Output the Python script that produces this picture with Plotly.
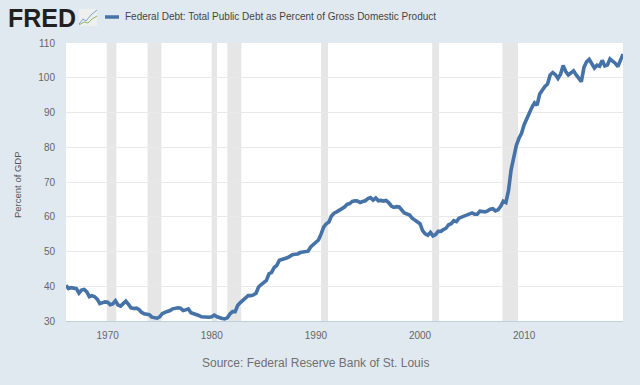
import pandas as pd
import plotly.graph_objects as go

W, H = 640, 385
L, R, T, B = 66, 623, 43, 321

series_name = "Federal Debt: Total Public Debt as Percent of Gross Domestic Product"
source_text = "Source: Federal Reserve Bank of St. Louis"
y_title = "Percent of GDP"
start_quarter = "1966-01-01"

debt_pct = [
    40.3, 39.3, 39.6, 39.4, 39.3, 38.0, 38.9, 39.1, 38.4, 37.0, 37.3, 37.0,
    36.3, 35.0, 35.2, 35.5, 35.4, 34.7, 34.9, 35.8, 34.6, 34.3, 35.0, 35.7,
    34.8, 33.8, 33.6, 33.7, 33.3, 32.5, 32.1, 31.9, 31.8, 31.1, 30.9, 30.8,
    31.2, 32.1, 32.5, 32.7, 33.0, 33.5, 33.7, 33.8, 33.7, 33.0, 33.2, 33.5,
    32.4, 32.2, 31.9, 31.6, 31.2, 31.1, 31.1, 31.1, 31.2, 31.7, 31.2, 30.9,
    30.7, 30.6, 30.9, 32.0, 32.7, 32.7, 34.5, 35.3, 36.0, 36.8, 37.3, 37.3,
    37.5, 38.0, 39.8, 40.5, 41.0, 41.7, 43.6, 44.0, 45.4, 46.0, 47.5, 47.7,
    48.1, 48.2, 48.6, 49.1, 49.2, 49.3, 49.7, 49.9, 50.0, 50.1, 51.3, 52.0,
    52.6, 53.3, 55.0, 57.0, 58.0, 58.5, 60.2, 61.0, 61.4, 61.8, 62.3, 62.8,
    63.6, 63.8, 64.4, 64.6, 64.5, 64.1, 64.4, 64.6, 65.2, 65.5, 64.8, 65.4,
    64.6, 64.7, 64.5, 64.7, 64.0, 63.1, 62.7, 62.9, 62.8, 61.9, 61.1, 60.8,
    60.5, 59.6, 59.1, 58.4, 58.0, 56.0, 55.1, 54.7, 55.5, 54.5, 54.9, 55.8,
    55.8, 56.3, 56.7, 57.7, 58.0, 58.9, 58.6, 59.6, 59.9, 60.0, 60.5, 60.6,
    61.1, 60.7, 60.7, 61.6, 61.6, 61.4, 61.7, 62.2, 62.3, 61.7, 62.0, 63.0,
    64.5, 64.1, 67.5, 73.5, 77.0, 80.5, 82.5, 84.0, 86.5, 88.3, 89.5, 91.5,
    92.8, 92.1, 95.3, 96.6, 97.5, 98.2, 100.8, 101.5, 100.9, 99.8, 101.0, 103.5,
    101.8, 100.8, 101.5, 102.0, 100.8, 99.8, 98.9, 103.0, 104.6, 105.3, 104.0, 102.8,
    103.6, 103.3, 105.0, 103.4, 103.7, 105.4, 104.8, 104.2, 103.2, 105.2, 106.8,
]
recession_starts = ["1969-12-01", "1973-11-01", "1980-01-01", "1981-07-01", "1990-07-01", "2001-03-01", "2007-12-01"]
recession_ends = ["1970-11-01", "1975-03-01", "1980-07-01", "1982-11-01", "1991-03-01", "2001-11-01", "2009-06-01"]
y_ticks = [30, 40, 50, 60, 70, 80, 90, 100, 110]
x_tick_years = [1970, 1980, 1990, 2000, 2010]

dates = pd.date_range(start_quarter, periods=len(debt_pct), freq="QS")
LINE = "#4572a7"
BG = "#e1e9f0"
FONT = "Liberation Sans, Arial, sans-serif"


def px(x):
    return (x - L) / (R - L)


def py(y):
    return (B - y) / (B - T)


fig = go.Figure(go.Scatter(x=dates, y=debt_pct, mode="lines", name=series_name,
                           line=dict(color=LINE, width=3.6), showlegend=False))

shapes = [dict(type="rect", xref="x", yref="paper", x0=a, x1=b, y0=0, y1=1, layer="below",
               fillcolor="#e6e6e6", line_width=0)
          for a, b in zip(recession_starts, recession_ends)]
# legend swatch
shapes.append(dict(type="line", xref="paper", yref="paper", x0=px(105), x1=px(119), y0=py(17), y1=py(17),
                   line=dict(color=LINE, width=3.5)))
# FRED logo icon
shapes.append(dict(type="rect", xref="paper", yref="paper", x0=px(79), x1=px(97), y0=py(26), y1=py(9),
                   fillcolor="#eef0f0", line_width=0))
shapes.append(dict(type="path", xref="paper", yref="paper",
                   path=f"M {px(79)} {py(24)} L {px(83)} {py(19)} L {px(86)} {py(21)} L {px(91)} {py(15)} L {px(97)} {py(10)}",
                   line=dict(color="#7aa0c8", width=1)))
shapes.append(dict(type="path", xref="paper", yref="paper",
                   path=f"M {px(79)} {py(25)} L {px(84)} {py(22)} L {px(88)} {py(23)} L {px(92)} {py(19)} L {px(97)} {py(16)}",
                   line=dict(color="#8db56a", width=1)))

annotations = [
    dict(text="<b>FRED</b>", x=px(6), y=py(18), xref="paper", yref="paper", xanchor="left", yanchor="middle",
         showarrow=False, font=dict(family=FONT, size=25, color="#231f20")),
    dict(text=series_name, x=px(123), y=py(17), xref="paper", yref="paper", xanchor="left", yanchor="middle",
         showarrow=False, font=dict(family=FONT, size=10, color="#444444")),
    dict(text=source_text, x=px(315), y=py(363), xref="paper", yref="paper", xanchor="center", yanchor="middle",
         showarrow=False, font=dict(family=FONT, size=12, color="#707070")),
    dict(text=y_title, x=px(18), y=py(185), xref="paper", yref="paper", xanchor="center", yanchor="middle",
         textangle=-90, showarrow=False, font=dict(family=FONT, size=9.5, color="#555555")),
]

fig.update_layout(
    width=W, height=H, autosize=False,
    margin=dict(l=L, r=W - R, t=T, b=H - B, pad=0),
    paper_bgcolor=BG, plot_bgcolor="#ffffff",
    shapes=shapes, annotations=annotations, showlegend=False,
    xaxis=dict(type="date", range=[dates[0], dates[-1]],
               tickvals=[f"{y}-01-01" for y in x_tick_years], ticktext=[str(y) for y in x_tick_years],
               showgrid=False, zeroline=False, showline=True, linecolor="#c0d0e0", linewidth=1,
               ticks="", ticklabelstandoff=5, tickfont=dict(family=FONT, size=10, color="#666666")),
    yaxis=dict(range=[30, 110], tickvals=y_ticks, showgrid=True, gridcolor="#e9e9e9", gridwidth=1,
               zeroline=False, showline=False, ticks="", ticklabelstandoff=10,
               tickfont=dict(family=FONT, size=10, color="#666666")),
)
fig.write_html("out.html", config=dict(displayModeBar=False),
               post_script="document.body.style.margin='0';document.body.style.overflow='hidden';")
